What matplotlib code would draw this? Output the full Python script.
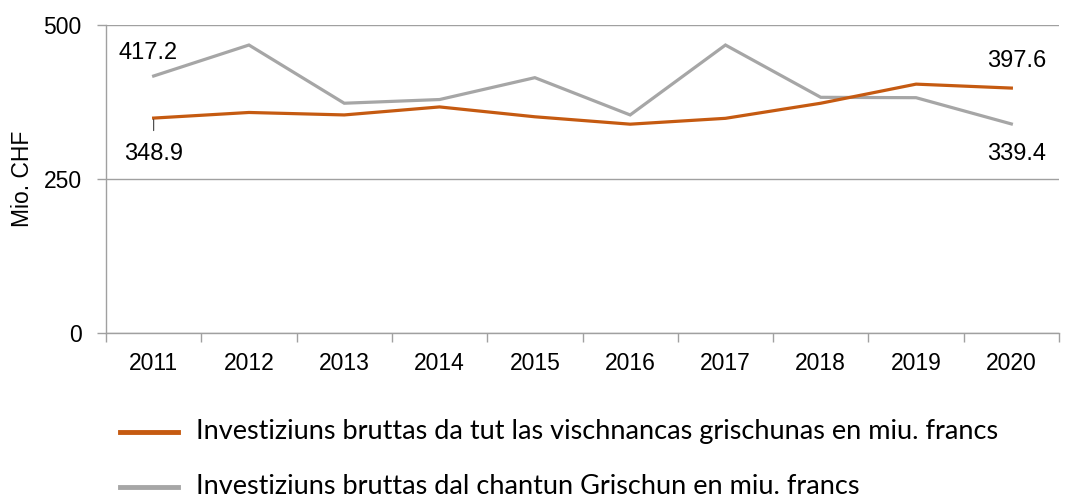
import numpy as np
import matplotlib
matplotlib.use('Agg')
import matplotlib.pyplot as plt

# data
years = ['2011', '2012', '2013', '2014', '2015', '2016', '2017', '2018', '2019', '2020']
vischnancas = [348.9, 358.0, 354.0, 367.0, 351.0, 339.0, 348.5, 373.0, 404.0, 397.6]
chantun = [417.2, 467.5, 373.0, 379.0, 414.5, 354.0, 467.5, 382.6, 382.0, 339.4]
label_vischnancas = 'Investiziuns bruttas da tut las vischnancas grischunas en miu. francs'
label_chantun = 'Investiziuns bruttas dal chantun Grischun en miu. francs'

orange = '#C55A11'
grey = '#A6A6A6'
axis_col = '#A0A0A0'

plt.rcParams['font.family'] = ['Liberation Sans', 'DejaVu Sans']

fig = plt.figure(figsize=(10.67, 4.99), dpi=100)
ax = fig.add_axes([106 / 1067, 1 - 333 / 499, (1059 - 106) / 1067, (333 - 25) / 499])

x = np.arange(len(years))
ax.plot(x, chantun, color=grey, lw=2.3, solid_joinstyle='miter')
ax.plot(x, vischnancas, color=orange, lw=2.3, solid_joinstyle='miter')

ax.set_xlim(-0.5, len(years) - 0.5)
ax.set_ylim(0, 500)
ax.set_yticks([0, 250, 500])
ax.yaxis.grid(True, color=axis_col, lw=1)
ax.set_axisbelow(True)

ax.set_xticks(x)
ax.set_xticklabels(years)
ax.set_xticks(np.arange(-0.5, len(years)), minor=True)
ax.tick_params(axis='x', which='major', length=0, pad=14, labelsize=16.5)
ax.tick_params(axis='x', which='minor', length=6.5, color=axis_col, width=1)
ax.tick_params(axis='y', length=6.5, color=axis_col, width=1, pad=11, labelsize=16.5)

for s in ['top', 'right']:
    ax.spines[s].set_visible(False)
for s in ['left', 'bottom']:
    ax.spines[s].set_color(axis_col)
    ax.spines[s].set_linewidth(1)

ax.set_ylabel('Mio. CHF', fontsize=16.5, labelpad=7)

# value labels at start and end
fs = 17
ax.annotate(f'{chantun[0]:.1f}', (x[0], chantun[0]), xytext=(-6, 23),
            textcoords='offset pixels', ha='center', va='center', fontsize=fs)
ax.annotate(f'{vischnancas[0]:.1f}', (x[0], vischnancas[0]), xytext=(0, -36),
            textcoords='offset pixels', ha='center', va='center', fontsize=fs,
            arrowprops=dict(arrowstyle='-', color='#404040', lw=0.8, shrinkA=7, shrinkB=1))
ax.annotate(f'{vischnancas[-1]:.1f}', (x[-1], vischnancas[-1]), xytext=(5, 27),
            textcoords='offset pixels', ha='center', va='center', fontsize=fs)
ax.annotate(f'{chantun[-1]:.1f}', (x[-1], chantun[-1]), xytext=(5, -30),
            textcoords='offset pixels', ha='center', va='center', fontsize=fs)

# legend drawn below the chart
leg_items = [(orange, label_vischnancas, 432), (grey, label_chantun, 487)]
for col, lab, ypix in leg_items:
    yf = 1 - ypix / 499
    fig.add_artist(plt.Line2D([120 / 1067, 178 / 1067], [yf, yf], color=col, lw=3.5,
                              transform=fig.transFigure))
    fig.text(196 / 1067, yf, lab, ha='left', va='center', fontsize=19.5,
             family=['Lato', 'DejaVu Sans'])

fig.savefig('out.png', dpi=100)
